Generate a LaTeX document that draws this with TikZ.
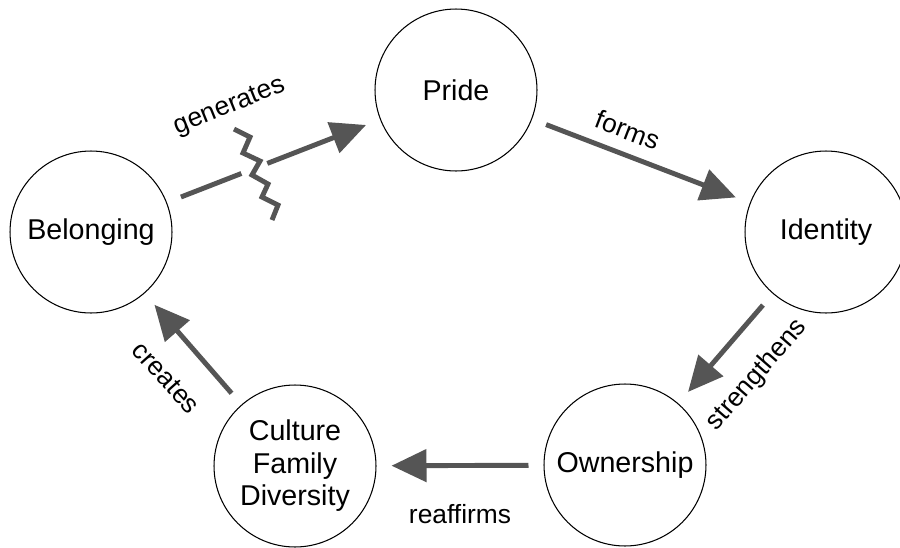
\documentclass[tikz,border=0pt]{standalone}
\usepackage{fontspec}
\setmainfont{Liberation Sans}
\usetikzlibrary{arrows.meta,calc}
\definecolor{arrowgray}{HTML}{555555}

\begin{document}
\begin{tikzpicture}[x=0.02cm, y=-0.02cm,
  concept/.style={circle, draw=black, line width=0.6pt, minimum size=3.24cm, inner sep=0pt,
    align=center, font=\fontsize{16.3}{18.5}\selectfont},
  flow/.style={draw=arrowgray, line width=2.8pt, shorten <=0.3cm, shorten >=0.3cm,
    -{Triangle[length=0.7cm,width=0.64cm]}},
  verb/.style={font=\fontsize{15}{18}\selectfont}]
  \useasboundingbox (0,0) rectangle (900,548);

  % Concepts
  \node[concept] (bel) at (91,232) {Belonging};
  \node[concept] (pri) at (456,90) {Pride};
  \node[concept] (ide) at (826,232) {Identity};
  \node[concept] (own) at (625,465) {Ownership};
  \node[concept] (cul) at (295,466) {Culture\\Family\\Diversity};

  % Broken link: Belonging -> Pride
  \coordinate (gapA) at ($(bel)!0.412!(pri)$);
  \coordinate (gapB) at ($(bel)!0.483!(pri)$);
  \draw[flow, -, shorten >=0pt] (bel) -- (gapA);
  \draw[flow, shorten <=0pt] (gapB) -- (pri);
  \draw[arrowgray, line width=2.8pt] (234,129) -- (250,137) -- (243,153) -- (260,161)
    -- (252,175) -- (268,184) -- (262,197) -- (278,205) -- (272,220);

  % Cycle
  \draw[flow] (pri) -- (ide);
  \draw[flow] (ide) -- (own);
  \draw[flow] (own) -- (cul);
  \draw[flow] (cul) -- (bel);

  % Labels
  \node[verb, rotate=22] (lgen) at (230,107) {generates};
  \node[verb, rotate=-21] (lfor) at (628,130) {forms};
  \node[verb, rotate=49] (lstr) at (757,375) {strengthens};
  \node[verb] (lrea) at (460,514) {reaffirms};
  \node[verb, rotate=-48] (lcre) at (166,378) {creates};
\end{tikzpicture}
\end{document}
